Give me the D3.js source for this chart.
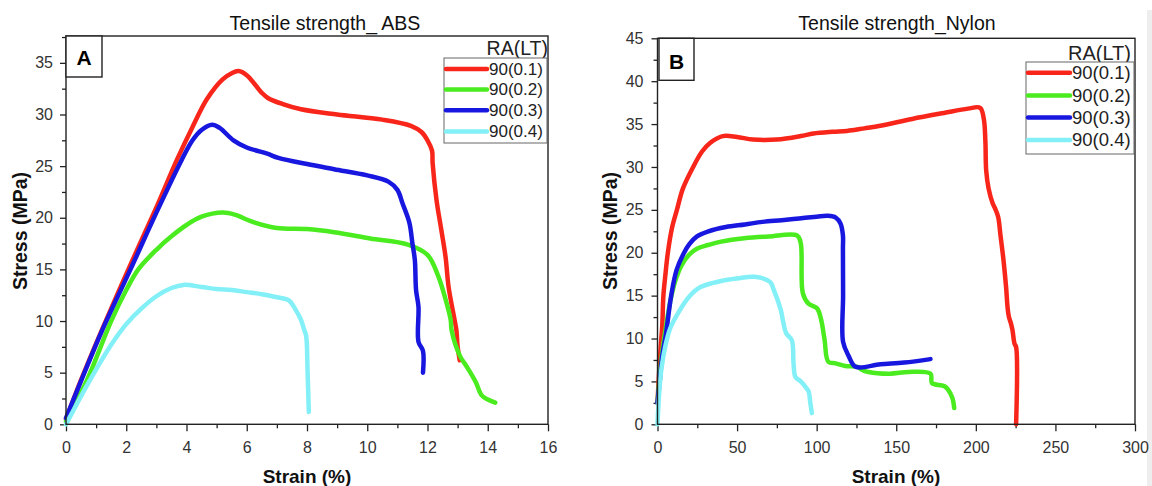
<!DOCTYPE html>
<html>
<head>
<meta charset="utf-8">
<script src="https://cdn.jsdelivr.net/npm/d3@7"></script>
<style>
  body { margin: 0; background: #fff; }
  svg { display: block; font-family: Arial, "Liberation Sans", sans-serif; }
</style>
</head>
<body>
<div id="container"></div>
<script>
// legend / series labels
var seriesNames = ["90(0.1)", "90(0.2)", "90(0.3)", "90(0.4)"];
var seriesColors = ["#f8261a", "#4aec1f", "#1717df", "#82f0f6"];

// ABS: [strain %, stress MPa]
var abs01 = [[0,0.5],[0.5,4.3],[1.2,9.2],[2.1,15.2],[3,21],[3.68,25.6],[4.2,28.8],[4.68,31.5],[5.2,33.4],[5.5,34.0],[5.73,34.2],[6.0,33.8],[6.3,32.8],[6.5,32.1],[6.7,31.6],[7.2,31.0],[7.8,30.5],[9,30.0],[10.5,29.5],[11.45,28.9],[11.8,28.3],[12.0,27.5],[12.15,26.5],[12.17,25.3],[12.3,21.7],[12.46,18.8],[12.6,16.2],[12.7,13.3],[12.9,10.1],[12.96,9.1],[13.0,7.5],[13.07,6.2]];
var abs02 = [[0,0.3],[0.7,4.3],[1.5,10],[2,13],[2.4,15],[3,16.9],[3.5,18.2],[4,19.3],[4.5,20.1],[5.2,20.5],[5.6,20.3],[6.2,19.6],[7,19.0],[8,18.9],[8.9,18.6],[10.1,18.0],[11.35,17.4],[12,16.4],[12.35,14.4],[12.6,12.1],[12.77,10.1],[12.8,9.1],[13.08,6.6],[13.3,5.6],[13.6,4.1],[13.8,2.8],[14.0,2.4],[14.25,2.1]];
var abs03 = [[0,0.6],[0.5,4.2],[1.2,9.1],[2.14,15],[3,20.5],[3.84,25.6],[4.2,27.5],[4.5,28.5],[4.85,29.0],[5.1,28.7],[5.56,27.5],[6,26.8],[6.68,26.2],[7.05,25.8],[8,25.2],[8.9,24.7],[10,24.1],[10.7,23.5],[11.0,22.7],[11.17,21.4],[11.4,19.5],[11.5,17.5],[11.58,15.9],[11.62,13],[11.7,11.4],[11.7,8],[11.85,7.1],[11.85,5]];
var abs04 = [[0,0],[0.8,4.3],[1.5,7.7],[2,9.7],[2.5,11.2],[3,12.4],[3.5,13.2],[3.9,13.5],[4.5,13.3],[5,13.1],[5.5,13.0],[6,12.8],[6.5,12.6],[7,12.3],[7.4,12.0],[7.6,11.2],[7.8,10.1],[7.9,9.2],[7.97,8.6],[8.02,5],[8.06,1.2]];

// Nylon: [strain %, stress MPa]
var ny01 = [[0,2.5],[1,6],[2,9],[3,11.5],[3.7,15],[5,17.5],[6.5,20],[9,22.8],[12.2,25],[16,27.5],[22.4,30],[28,31.8],[33,32.8],[41,33.6],[50,33.5],[60,33.2],[75,33.2],[90,33.6],[98,33.9],[110,34.1],[119,34.2],[130,34.5],[140,34.8],[160,35.6],[180,36.3],[195,36.8],[202.7,36.9],[205,35.6],[206,33],[206.5,29.6],[208,27.5],[210.5,25.8],[212,25.2],[214,24.2],[215.5,22],[217.4,19.1],[219,16],[220,13.5],[220.8,12.5],[222,11.8],[223,11],[224.3,9.4],[225.3,9],[225.3,0]];
var ny02 = [[0,2.5],[1,4.8],[3,8.5],[5,11],[8,14.3],[11,16.6],[15,18.5],[20,19.8],[25,20.5],[31.7,20.9],[40,21.3],[54.5,21.7],[70,21.9],[87.8,22.0],[90,21.1],[91.3,15.3],[94.7,14.1],[100.3,13.5],[102.8,12.2],[105,9.8],[107.3,7.3],[112,7.1],[118,6.8],[125.7,6.7],[128,6.4],[132.5,6.1],[146,5.9],[157.8,6.1],[171.5,5.9],[172.5,4.8],[180.7,4.4],[185,3.2],[186.4,1.9]];
var ny03 = [[0,2.5],[1.4,5],[3,8],[5.3,10.5],[8.6,15],[12,18],[16.7,20],[20,21],[24.8,21.9],[32,22.5],[43,23.0],[55,23.3],[66,23.6],[78,23.8],[89,24.0],[100,24.2],[107,24.3],[112,24.1],[115,23.4],[116.5,22],[116.5,20.5],[116.6,15],[116.6,9.6],[120,8],[124.5,6.7],[140,7.0],[155,7.2],[171.5,7.6]];
var ny04 = [[0,0],[1,3.5],[2.5,6.5],[5,9.2],[8,11.2],[13,13],[20,14.9],[27,16.0],[40,16.7],[50,17.0],[61,17.2],[70.7,16.6],[73,15.7],[77.5,13.3],[78.7,12.2],[80.9,10.6],[84.4,9.8],[85.5,7],[86.7,5.5],[90,5],[93.6,4.2],[95,3.8],[96,2.5],[97,1.3]];

var absTicksX = d3.range(0, 17, 2);
var nyTicksX = d3.range(0, 301, 50);
var absTicksY = d3.range(0, 36, 5);
var nyTicksY = d3.range(0, 46, 5);

var width = 1152, height = 486;

var svg = d3.select("#container").append("svg")
    .attr("width", width)
    .attr("height", height);

// faint strip at the right edge of the picture
svg.append("rect").attr("x", 1147).attr("y", 10).attr("width", 5).attr("height", 476).attr("fill", "#eeeeee");

var panels = [
  {
    title: "Tensile strength_ ABS", titleX: 325, tag: "A",
    left: 66, right: 548, top: 36, bottom: 424.3,
    xMax: 16, yMax: 37.6, xTicks: absTicksX, xMinorStep: 1, yTicks: absTicksY,
    series: [abs01, abs02, abs03, abs04],
    tagBox: [66, 36, 36, 41], tagPos: [84, 65],
    legend: { x0: 444, x1: 547, y0: 58, y1: 143, rows: [69, 89.5, 110.2, 131.5], lx0: 446, lx1: 487, tx: 489, font: 17, headY: 55, headX: 548, headFont: 19.5 },
    yLabelX: 27, xLabelX: 307, yPad: 7
  },
  {
    title: "Tensile strength_Nylon", titleX: 897, tag: "B",
    left: 657.5, right: 1135, top: 38.3, bottom: 424.3,
    xMax: 300, yMax: 45, xTicks: nyTicksX, xMinorStep: 25, yTicks: nyTicksY,
    series: [ny01, ny02, ny03, ny04],
    tagBox: [659, 38.3, 35, 42], tagPos: [676.5, 68.5],
    legend: { x0: 1026, x1: 1134, y0: 62, y1: 154, rows: [72.7, 95.5, 117.5, 140], lx0: 1028, lx1: 1070, tx: 1072, font: 18.5, headY: 60, headX: 1131, headFont: 20 },
    yLabelX: 617, xLabelX: 896, yPad: 8
  }
];

panels.forEach(function (p) {
  var x = d3.scaleLinear().domain([0, p.xMax]).range([p.left, p.right]);
  var y = d3.scaleLinear().domain([0, p.yMax]).range([p.bottom, p.top]);
  var g = svg.append("g");

  // title
  g.append("text")
    .attr("x", p.titleX).attr("y", 30)
    .attr("text-anchor", "middle")
    .attr("font-size", 19.5)
    .attr("fill", "#111")
    .text(p.title);

  // minor ticks
  var xMinor = d3.range(p.xMinorStep, p.xMax, p.xMinorStep * 2);
  var yMinor = d3.range(2.5, p.yMax, 5);
  g.append("g")
    .attr("transform", "translate(0," + p.bottom + ")")
    .call(d3.axisBottom(x).tickValues(xMinor).tickSize(4).tickFormat("").tickSizeOuter(0))
    .call(function (s) { s.select(".domain").remove(); s.selectAll("line").attr("stroke", "#222").attr("stroke-width", 1.3); });
  g.append("g")
    .attr("transform", "translate(" + p.left + ",0)")
    .call(d3.axisLeft(y).tickValues(yMinor).tickSize(4).tickFormat("").tickSizeOuter(0))
    .call(function (s) { s.select(".domain").remove(); s.selectAll("line").attr("stroke", "#222").attr("stroke-width", 1.3); });

  // major axes
  var xa = g.append("g")
    .attr("transform", "translate(0," + p.bottom + ")")
    .call(d3.axisBottom(x).tickValues(p.xTicks).tickSize(7).tickPadding(10).tickSizeOuter(0));
  var ya = g.append("g")
    .attr("transform", "translate(" + p.left + ",0)")
    .call(d3.axisLeft(y).tickValues(p.yTicks).tickSize(6).tickPadding(p.yPad).tickSizeOuter(0));
  [xa, ya].forEach(function (a) {
    a.select(".domain").remove();
    a.selectAll("line").attr("stroke", "#222").attr("stroke-width", 1.3);
    a.selectAll("text").attr("font-size", 16).attr("fill", "#333")
      .attr("font-family", "Arial, 'Liberation Sans', sans-serif");
  });

  // curves (smoothed through the read-off points)
  var line = d3.line()
    .curve(d3.curveCatmullRom.alpha(0.5))
    .x(function (d) { return x(d[0]); })
    .y(function (d) { return y(d[1]); });
  [0, 1, 2, 3].forEach(function (i) {
    g.append("path")
      .datum(p.series[i])
      .attr("d", line)
      .attr("fill", "none")
      .attr("stroke", seriesColors[i])
      .attr("stroke-width", 4.5)
      .attr("stroke-linejoin", "round")
      .attr("stroke-linecap", "round");
  });

  // frame
  g.append("rect")
    .attr("x", p.left).attr("y", p.top)
    .attr("width", p.right - p.left).attr("height", p.bottom - p.top)
    .attr("fill", "none").attr("stroke", "#222").attr("stroke-width", 1.4);

  // panel tag
  g.append("rect")
    .attr("x", p.tagBox[0]).attr("y", p.tagBox[1])
    .attr("width", p.tagBox[2]).attr("height", p.tagBox[3])
    .attr("fill", "#fff").attr("stroke", "#222").attr("stroke-width", 1.4);
  g.append("text")
    .attr("x", p.tagPos[0]).attr("y", p.tagPos[1])
    .attr("text-anchor", "middle")
    .attr("font-size", 21).attr("font-weight", "bold")
    .text(p.tag);

  // legend
  var L = p.legend;
  g.append("text")
    .attr("x", L.headX).attr("y", L.headY)
    .attr("text-anchor", "end")
    .attr("font-size", L.headFont).attr("fill", "#222")
    .text("RA(LT)");
  g.append("rect")
    .attr("x", L.x0).attr("y", L.y0)
    .attr("width", L.x1 - L.x0).attr("height", L.y1 - L.y0)
    .attr("fill", "#fff").attr("stroke", "#666").attr("stroke-width", 1);
  seriesNames.forEach(function (name, i) {
    g.append("line")
      .attr("x1", L.lx0).attr("x2", L.lx1)
      .attr("y1", L.rows[i]).attr("y2", L.rows[i])
      .attr("stroke", seriesColors[i]).attr("stroke-width", 4.5)
      .attr("stroke-linecap", "round");
    g.append("text")
      .attr("x", L.tx).attr("y", L.rows[i])
      .attr("dy", "0.35em")
      .attr("font-size", L.font).attr("fill", "#222")
      .text(name);
  });

  // axis titles
  g.append("text")
    .attr("x", p.xLabelX).attr("y", 483)
    .attr("text-anchor", "middle")
    .attr("font-size", 19).attr("font-weight", "bold").attr("fill", "#111")
    .text("Strain (%)");
  g.append("text")
    .attr("transform", "translate(" + p.yLabelX + ",231) rotate(-90)")
    .attr("text-anchor", "middle")
    .attr("font-size", 19.5).attr("font-weight", "bold").attr("fill", "#111")
    .text("Stress (MPa)");
});
</script>
</body>
</html>
